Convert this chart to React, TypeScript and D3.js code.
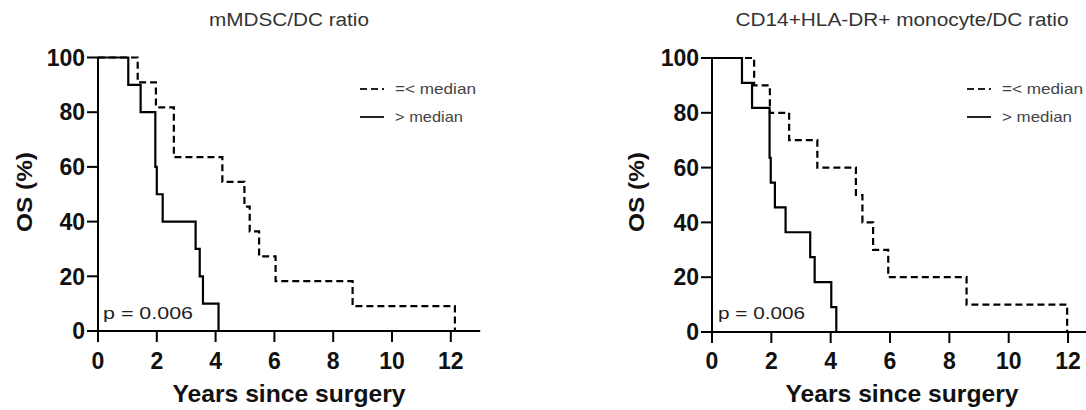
import React from "react";
import * as d3 from "d3";

// ---- data ----
const xTicks = [0, 2, 4, 6, 8, 10, 12];
const yTicks = [0, 20, 40, 60, 80, 100];
const panelTitles = ["mMDSC/DC ratio", "CD14+HLA-DR+ monocyte/DC ratio"];
const legendLabels = ["=< median", "> median"];
const pLabels = ["p = 0.006", "p = 0.006"];
const xTitle = "Years since surgery";
const yTitle = "OS (%)";

// Left panel: mMDSC/DC ratio
const leftLowTimes = [0, 1.35, 1.97, 2.58, 4.23, 4.98, 5.16, 5.48, 6.04, 8.66, 12.14];
const leftLowSurv = [100, 90.9, 81.8, 63.6, 54.5, 45.5, 36.4, 27.3, 18.2, 9.1, 0];
const leftHighTimes = [0, 1.03, 1.45, 1.95, 2.0, 2.2, 3.32, 3.46, 3.57, 4.1];
const leftHighSurv = [100, 90, 80, 60, 50, 40, 30, 20, 10, 0];

// Right panel: CD14+HLA-DR+ monocyte/DC ratio
const rightLowTimes = [0, 1.42, 1.95, 2.6, 3.55, 4.85, 5.07, 5.43, 5.94, 8.58, 11.97];
const rightLowSurv = [100, 90, 80, 70, 60, 50, 40, 30, 20, 10, 0];
const rightHighTimes = [0, 1.01, 1.35, 1.94, 1.98, 2.12, 2.48, 3.31, 3.46, 4.02, 4.19];
const rightHighSurv = [100, 90.9, 81.8, 63.6, 54.5, 45.5, 36.4, 27.3, 18.2, 9.1, 0];

const xDomainMax = 13;

// ---- layout (pixels) ----
const layouts = [
  {
    x0: 98, unit: 29.4, yBottom: 331, yTop: 57.5,
    titleX: 289, titleLen: 160,
    yTitleX: 24, xTitleX: 289,
    legendX: 360, legendTextX: 395, legendLens: [81, 68],
    pX: 103, pLen: 90,
  },
  {
    x0: 712, unit: 29.67, yBottom: 332, yTop: 58,
    titleX: 902, titleLen: 333,
    yTitleX: 636, xTitleX: 902,
    legendX: 967, legendTextX: 1002, legendLens: [81, 70],
    pX: 718, pLen: 87,
  },
];

const seriesData = [
  { low: [leftLowTimes, leftLowSurv], high: [leftHighTimes, leftHighSurv] },
  { low: [rightLowTimes, rightLowSurv], high: [rightHighTimes, rightHighSurv] },
];

const FONT = "'Liberation Sans', Arial, Helvetica, sans-serif";
const DASH = "7,4";

function Panel({ idx }: { idx: number }) {
  const L = layouts[idx];
  const x = d3.scaleLinear().domain([0, xDomainMax]).range([L.x0, L.x0 + xDomainMax * L.unit]);
  const y = d3.scaleLinear().domain([0, 100]).range([L.yBottom, L.yTop]);
  const line = d3
    .line<[number, number]>()
    .x((d) => x(d[0]))
    .y((d) => y(d[1]))
    .curve(d3.curveStepAfter);
  const S = seriesData[idx];
  const lowPts = S.low[0].map((t, i) => [t, S.low[1][i]] as [number, number]);
  const highPts = S.high[0].map((t, i) => [t, S.high[1][i]] as [number, number]);

  return (
    <g>
      {/* title */}
      <text x={L.titleX} y={26} textAnchor="middle" fontFamily={FONT} fontSize={18} fill="#333"
        textLength={L.titleLen} lengthAdjust="spacingAndGlyphs">
        {panelTitles[idx]}
      </text>

      {/* curves */}
      <path d={line(highPts) || ""} fill="none" stroke="#000" strokeWidth={2.2} />
      <path d={line(lowPts) || ""} fill="none" stroke="#000" strokeWidth={2.2} strokeDasharray={DASH} />

      {/* axes */}
      <line x1={x(0)} x2={x(0)} y1={y(0)} y2={y(100)} stroke="#000" strokeWidth={2} />
      <line x1={x(0)} x2={x(xDomainMax)} y1={y(0)} y2={y(0)} stroke="#000" strokeWidth={2} />
      {yTicks.map((t) => (
        <g key={"y" + t}>
          <line x1={x(0) - 11} x2={x(0)} y1={y(t)} y2={y(t)} stroke="#000" strokeWidth={2} />
          <text x={x(0) - 13} y={y(t)} dy="0.36em" textAnchor="end" fontFamily={FONT}
            fontWeight="bold" fontSize={23} fill="#111">{t}</text>
        </g>
      ))}
      {xTicks.map((t) => (
        <g key={"x" + t}>
          <line x1={x(t)} x2={x(t)} y1={y(0)} y2={y(0) + 11} stroke="#000" strokeWidth={2} />
          <text x={x(t)} y={369} textAnchor="middle" fontFamily={FONT}
            fontWeight="bold" fontSize={23} fill="#111">{t}</text>
        </g>
      ))}

      {/* axis titles */}
      <text x={L.xTitleX} y={402} textAnchor="middle" fontFamily={FONT} fontWeight="bold"
        fontSize={24} fill="#111" textLength={233} lengthAdjust="spacingAndGlyphs">{xTitle}</text>
      <text transform={`translate(${L.yTitleX},192) rotate(-90)`} textAnchor="middle" dy="0.36em"
        fontFamily={FONT} fontWeight="bold" fontSize={22} fill="#111"
        textLength={80} lengthAdjust="spacingAndGlyphs">{yTitle}</text>

      {/* legend */}
      <line x1={L.legendX} x2={L.legendX + 24} y1={89} y2={89} stroke="#222" strokeWidth={2} strokeDasharray={DASH} />
      <line x1={L.legendX} x2={L.legendX + 24} y1={117} y2={117} stroke="#222" strokeWidth={2} />
      {legendLabels.map((lab, i) => (
        <text key={lab} x={L.legendTextX} y={i === 0 ? 94 : 122} fontFamily={FONT} fontSize={15}
          fill="#444" textLength={L.legendLens[i]} lengthAdjust="spacingAndGlyphs">{lab}</text>
      ))}

      {/* p value */}
      <text x={L.pX} y={319} fontFamily={FONT} fontSize={17} fill="#222"
        textLength={L.pLen} lengthAdjust="spacingAndGlyphs">{pLabels[idx]}</text>
    </g>
  );
}

export default function App() {
  return (
    <svg width={1086} height={410} style={{ position: "absolute", left: 0, top: 0, background: "#fff" }}>
      <rect width={1086} height={410} fill="#fff" />
      <Panel idx={0} />
      <Panel idx={1} />
    </svg>
  );
}
